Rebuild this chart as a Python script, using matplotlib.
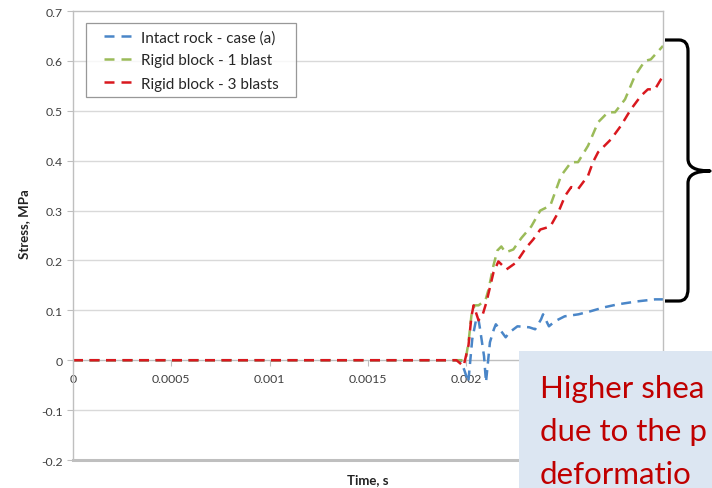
import numpy as np
import matplotlib.pyplot as plt
from matplotlib.patches import Rectangle, PathPatch
from matplotlib.path import Path

plt.rcParams['font.family'] = ['Lato', 'DejaVu Sans']

# data
t_intact = [0, 0.00197, 0.00199, 0.00201, 0.00203, 0.00205, 0.00206, 0.00207, 0.00209, 0.00210,
            0.00212, 0.00214, 0.00215, 0.00217, 0.00220, 0.00222, 0.00226, 0.00232, 0.00235,
            0.00238, 0.00239, 0.00242, 0.00245, 0.00250, 0.00257, 0.00263, 0.00270, 0.00277,
            0.00287, 0.00296, 0.00300]
s_intact = [0, 0, -0.02, -0.044, 0.042, 0.082, 0.086, 0.062, 0.008, -0.044,
            0.036, 0.062, 0.072, 0.062, 0.046, 0.056, 0.068, 0.066, 0.062,
            0.082, 0.092, 0.068, 0.078, 0.088, 0.092, 0.098, 0.106, 0.112,
            0.118, 0.122, 0.122]

t_rigid1 = [0, 0.00195, 0.001996, 0.002011, 0.002026, 0.002042, 0.002062, 0.002097, 0.002113,
            0.002138, 0.002158, 0.002178, 0.002199, 0.002239, 0.002280, 0.002330, 0.002376,
            0.002427, 0.002482, 0.002533, 0.002568, 0.002619, 0.002670, 0.002720, 0.002756,
            0.002807, 0.002857, 0.002908, 0.002938, 0.00300]
s_rigid1 = [0, 0, 0, 0.036, 0.09, 0.11, 0.11, 0.12, 0.142,
            0.19, 0.22, 0.228, 0.216, 0.222, 0.245, 0.268, 0.30,
            0.31, 0.37, 0.397, 0.397, 0.43, 0.477, 0.497, 0.497,
            0.523, 0.57, 0.60, 0.603, 0.63]

t_rigid3 = [0, 0.00195, 0.001986, 0.002011, 0.002026, 0.002037, 0.002062, 0.002082, 0.002102,
            0.002138, 0.002163, 0.002204, 0.002254, 0.002305, 0.002340, 0.002376, 0.002427,
            0.002467, 0.002503, 0.002533, 0.002568, 0.002619, 0.002644, 0.002670, 0.002736,
            0.002786, 0.002837, 0.002888, 0.002923, 0.002959, 0.00300]
s_rigid3 = [0, 0, -0.012, 0.03, 0.088, 0.11, 0.08, 0.09, 0.116,
            0.176, 0.198, 0.182, 0.196, 0.226, 0.242, 0.262, 0.268,
            0.296, 0.33, 0.347, 0.343, 0.37, 0.397, 0.417, 0.443,
            0.47, 0.503, 0.53, 0.543, 0.543, 0.57]

# labels past 0.002 sit under the callout box
x_ticks = [0, 0.0005, 0.001, 0.0015, 0.002]
x_ticklabels = ['0', '0.0005', '0.001', '0.0015', '0.002']
y_ticks = [-0.2, -0.1, 0, 0.1, 0.2, 0.3, 0.4, 0.5, 0.6, 0.7]
y_ticklabels = ['-0.2', '-0.1', '0', '0.1', '0.2', '0.3', '0.4', '0.5', '0.6', '0.7']
callout = ['Higher shea', 'due to the p', 'deformatio']

W, H = 712, 489
fig = plt.figure(figsize=(W / 100, H / 100), dpi=100)
ax = fig.add_axes([73 / W, 1 - 461 / H, 590 / W, 449 / H])

ax.set_xlim(0, 0.003)
ax.set_ylim(-0.2, 0.7)

for y in y_ticks[1:-1]:
    if y != 0:
        ax.axhline(y, color='#d9d9d9', lw=1, zorder=0)
ax.axhline(-0.2, color='#bfbfbf', lw=2.2, zorder=1, clip_on=False)

dash = (4, 2.6)
ax.plot(t_intact, s_intact, color='#4a86c8', lw=1.8, dashes=dash, label='Intact rock - case (a)')
ax.plot(t_rigid1, s_rigid1, color='#9bbb59', lw=1.8, dashes=dash, label='Rigid block - 1 blast')
ax.plot(t_rigid3, s_rigid3, color='#d9181e', lw=1.8, dashes=dash, label='Rigid block - 3 blasts')

ax.spines['bottom'].set_position(('data', 0))
for s in ['bottom', 'left', 'right', 'top']:
    ax.spines[s].set_color('#bfbfbf')
    ax.spines[s].set_linewidth(1)
ax.spines['bottom'].set_zorder(0)

ax.set_xticks(x_ticks)
ax.set_xticklabels(x_ticklabels)
ax.set_yticks(y_ticks)
ax.set_yticklabels(y_ticklabels)
ax.tick_params(axis='both', labelsize=8.8, colors='#404040', length=4, color='#bfbfbf')
ax.tick_params(axis='x', pad=5)

ax.set_ylabel('Stress, MPa', fontsize=9.5, fontweight='bold', color='#222222')
ax.yaxis.set_label_coords(-0.073, 0.528)
fig.text(368 / W, 1 - 480 / H, 'Time, s', fontsize=9.5, fontweight='bold',
         color='#222222', ha='center', va='center')

leg_h = 73 / 449
leg = ax.legend(loc='upper left', bbox_to_anchor=(13 / 590, 437 / 449 - leg_h, 210 / 590, leg_h),
                mode='expand', borderaxespad=0,
                fontsize=11, frameon=True, fancybox=False, handlelength=2.9,
                handletextpad=0.25, borderpad=0.45, labelspacing=0.6)
leg.get_frame().set_edgecolor('#7f7f7f')
leg.get_frame().set_linewidth(0.9)
for txt in leg.get_texts():
    txt.set_color('#262626')
# two dashes with a blank lead-in, like the reference legend
for ln in leg.get_lines():
    ln.set_linestyle((22.4, (4.0, 2.8, 4.0, 16.0)))

# curly brace on the right
pts = [(665, 41), (679, 41), (688, 41), (688, 52), (688, 160), (688, 172), (710, 172),
       (688, 172), (688, 184), (688, 290), (688, 302), (679, 302), (665, 302)]
codes = [Path.MOVETO, Path.LINETO, Path.CURVE3, Path.CURVE3, Path.LINETO, Path.CURVE3, Path.CURVE3,
         Path.CURVE3, Path.CURVE3, Path.LINETO, Path.CURVE3, Path.CURVE3, Path.LINETO]
pts = [(x / W, 1 - y / H) for x, y in pts]
fig.add_artist(PathPatch(Path(pts, codes), transform=fig.transFigure, fill=False,
                         edgecolor='black', lw=2.3, capstyle='butt', joinstyle='round'))

# callout box
fig.add_artist(Rectangle((519 / W, 0), (W - 519) / W, (H - 352) / H, transform=fig.transFigure,
                         facecolor='#dce6f2', edgecolor='none', zorder=10))
for i, line in enumerate(callout):
    fig.text(540 / W, 1 - (398 + 43 * i) / H, line, fontsize=22.5, color='#c00000',
             ha='left', va='baseline', zorder=11)

fig.savefig('out.png', dpi=100)
